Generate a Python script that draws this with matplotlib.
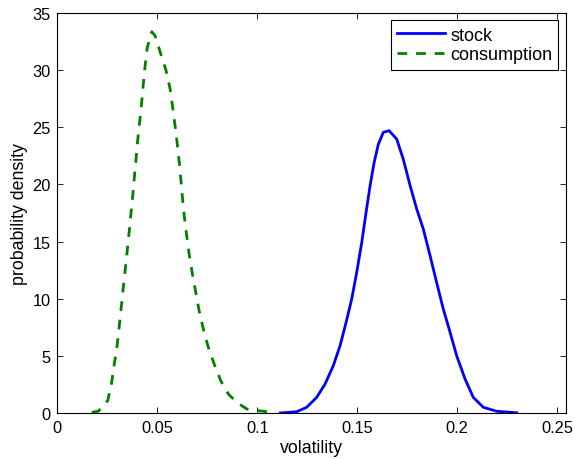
import matplotlib
matplotlib.use("Agg")
import matplotlib.pyplot as plt

plt.rcParams['font.family'] = ['Liberation Sans', 'DejaVu Sans']
plt.rcParams['font.size'] = 11.8

# stock volatility density
stock_x = [0.1114, 0.1197, 0.1247, 0.1297, 0.1339, 0.1380, 0.1414, 0.1444,
           0.1472, 0.1497, 0.1522, 0.1544, 0.1564, 0.1584, 0.1605, 0.1630,
           0.1659, 0.1697, 0.1730, 0.1764, 0.1797, 0.1830, 0.1864, 0.1897,
           0.1930, 0.1964, 0.1997, 0.2039, 0.2080, 0.2130, 0.2197, 0.2297]
stock_y = [0.0, 0.11, 0.5, 1.37, 2.54, 4.14, 5.9, 7.93,
           9.97, 12.3, 14.9, 17.56, 19.9, 21.9, 23.5, 24.56,
           24.7, 23.97, 22.2, 19.9, 17.85, 16.1, 13.76, 11.4,
           9.1, 7.06, 5.0, 2.97, 1.37, 0.5, 0.15, 0.02]

# consumption volatility density
cons_x = [0.0172, 0.0205, 0.0252, 0.0272, 0.0285, 0.0299, 0.0309, 0.0319,
          0.0329, 0.0339, 0.0349, 0.0359, 0.0369, 0.0377, 0.0385, 0.0394,
          0.0402, 0.0412, 0.0422, 0.0430, 0.0439, 0.0450, 0.0472, 0.0489,
          0.0514, 0.0544, 0.0564, 0.0577, 0.0589, 0.0600, 0.0610, 0.0619,
          0.0627, 0.0635, 0.0647, 0.0660, 0.0675, 0.0692, 0.0709, 0.0730,
          0.0755, 0.0784, 0.0817, 0.0855, 0.0897, 0.0947, 0.1005, 0.1055,
          0.1080]
cons_y = [0.06, 0.15, 1.08, 2.7, 4.3, 5.9, 7.5, 9.16,
          10.85, 12.45, 14.1, 15.8, 17.6, 19.0, 20.6, 22.3,
          23.9, 25.5, 27.2, 28.8, 30.4, 32.0, 33.36, 33.0,
          31.6, 29.95, 28.35, 26.7, 25.1, 23.5, 21.9, 20.2,
          18.6, 17.2, 15.5, 13.8, 12.2, 10.6, 8.95, 7.35,
          5.75, 4.3, 2.83, 1.66, 0.94, 0.35, 0.2, 0.1,
          0.05]

fig = plt.figure(figsize=(5.75, 4.6), dpi=100)
ax = fig.add_axes([0.0997, 0.1, 0.8841, 0.8696])

ax.plot(stock_x, stock_y, color=(0, 0, 1), lw=2, label='stock')
ax.plot(cons_x, cons_y, color=(0, 0.5, 0), lw=2, dashes=(3.5, 3.2),
        label='consumption')

ax.set_xlim(0, 0.2542)
ax.set_ylim(0, 35)
ax.set_xticks([0, 0.05, 0.1, 0.15, 0.2, 0.25])
ax.set_xticklabels(['0', '0.05', '0.1', '0.15', '0.2', '0.25'])
ax.set_yticks(range(0, 36, 5))
ax.tick_params(direction='in', top=True, right=True, length=4, width=0.6,
               pad=5)
for s in ax.spines.values():
    s.set_linewidth(0.8)

ax.set_xlabel('volatility', fontsize=12.8, labelpad=3)
ax.set_ylabel('probability density', fontsize=12.8, labelpad=3)

leg = ax.legend(loc='upper right', fontsize=13, fancybox=False,
                edgecolor='black', framealpha=1, handlelength=2.65,
                handletextpad=0.26, labelspacing=0.15, borderaxespad=0.4,
                borderpad=0.35)
leg.get_frame().set_linewidth(0.8)

fig.savefig('out.png', dpi=100)
